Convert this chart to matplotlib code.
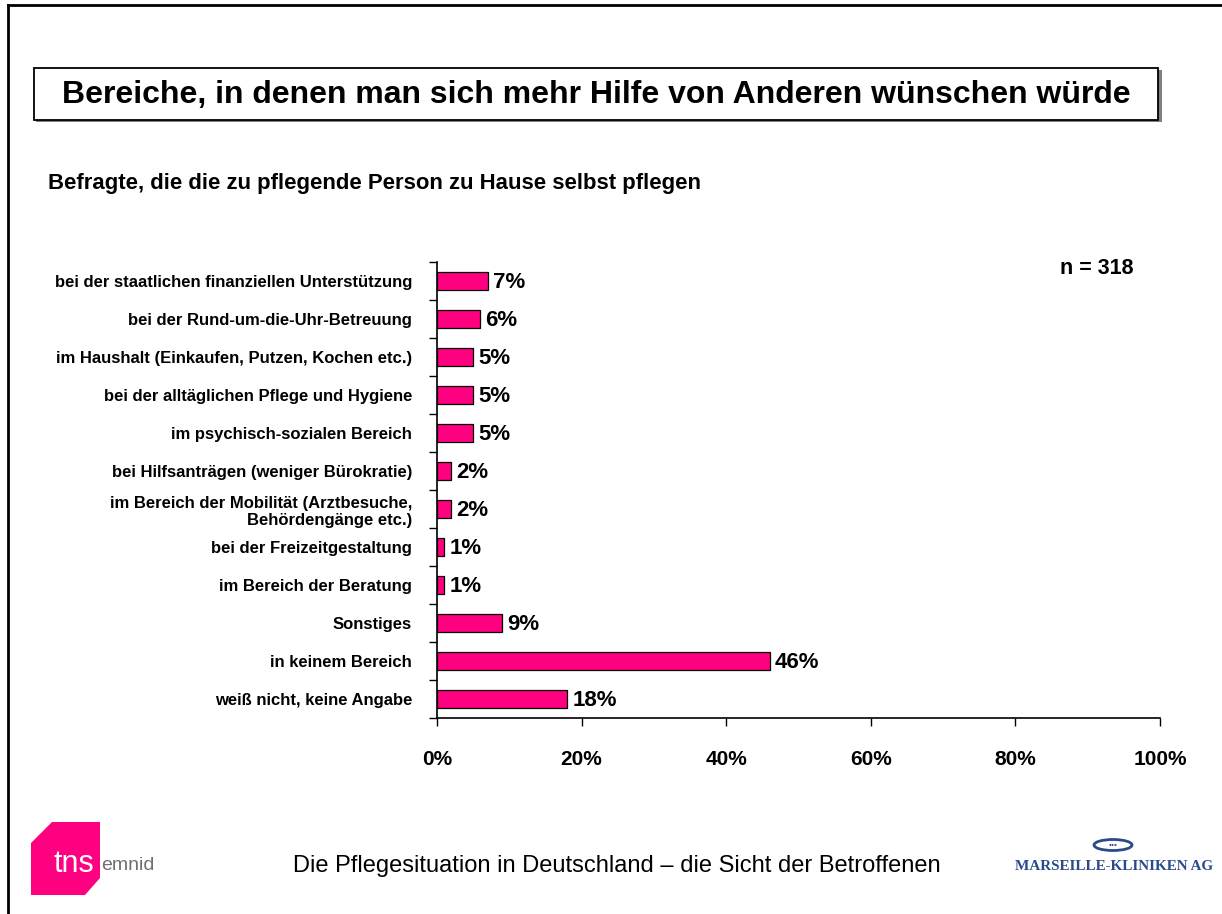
import matplotlib.pyplot as plt
from matplotlib.patches import Rectangle, Polygon, Ellipse
from matplotlib.lines import Line2D

plt.rcParams['font.family'] = ['Liberation Sans', 'DejaVu Sans']

categories = [
    'bei der staatlichen finanziellen Unterstützung',
    'bei der Rund-um-die-Uhr-Betreuung',
    'im Haushalt (Einkaufen, Putzen, Kochen etc.)',
    'bei der alltäglichen Pflege und Hygiene',
    'im psychisch-sozialen Bereich',
    'bei Hilfsanträgen (weniger Bürokratie)',
    'im Bereich der Mobilität (Arztbesuche,\nBehördengänge etc.)',
    'bei der Freizeitgestaltung',
    'im Bereich der Beratung',
    'Sonstiges',
    'in keinem Bereich',
    'weiß nicht, keine Angabe',
]
values = [7, 6, 5, 5, 5, 2, 2, 1, 1, 9, 46, 18]
x_ticks = [0, 20, 40, 60, 80, 100]

W, H = 1222, 914
PINK = '#FF0080'


def fx(x):
    return x / W


def fy(y):
    return 1 - y / H


fig = plt.figure(figsize=(W / 100, H / 100), dpi=100)

# page border (left and top)
fig.add_artist(Line2D([fx(8), fx(8)], [fy(5), fy(914)], color='black', lw=2))
fig.add_artist(Line2D([fx(8), fx(1222)], [fy(5), fy(5)], color='black', lw=2))

# title box with slight shadow
fig.add_artist(Rectangle((fx(36), fy(122)), fx(1126), 52 / H, facecolor='#808080',
                         edgecolor='none', transform=fig.transFigure))
fig.add_artist(Rectangle((fx(34), fy(120)), fx(1124), 52 / H, facecolor='white',
                         edgecolor='black', lw=1.3, transform=fig.transFigure))
fig.text(fx(596), fy(95), 'Bereiche, in denen man sich mehr Hilfe von Anderen wünschen würde',
         ha='center', va='center', fontsize=23, fontweight='bold')
fig.text(fx(48), fy(183), 'Befragte, die die zu pflegende Person zu Hause selbst pflegen',
         ha='left', va='center', fontsize=15.9, fontweight='bold')
fig.text(fx(1133), fy(268), 'n = 318', ha='right', va='center', fontsize=15.5, fontweight='bold')

# main chart
ax = fig.add_axes([fx(437), fy(718), (1160 - 437) / W, (718 - 262) / H])
y = list(range(len(categories)))
ax.barh(y, values, height=0.47, color=PINK, edgecolor='black', lw=0.9)
for yi, v in zip(y, values):
    ax.text(v + 0.7, yi + 0.03, f'{v}%', va='center', ha='left', fontsize=16, fontweight='bold')

ax.set_xlim(0, 100)
ax.set_ylim(len(categories) - 0.5, -0.5)
ax.set_xticks(x_ticks)
ax.set_xticklabels([f'{t}%' for t in x_ticks], fontsize=15, fontweight='bold')
ax.tick_params(axis='x', direction='out', length=6, width=1, pad=17)

ax.set_yticks([i - 0.5 for i in range(len(categories) + 1)])
ax.set_yticklabels([])
ax.tick_params(axis='y', which='major', direction='out', length=6, width=1)
ax.set_yticks(y, minor=True)
ax.set_yticklabels(categories, minor=True, fontsize=12, fontweight='bold')
ax.tick_params(axis='y', which='minor', length=0, pad=18)

for s in ['top', 'right']:
    ax.spines[s].set_visible(False)
for s in ['left', 'bottom']:
    ax.spines[s].set_linewidth(1.2)

# footer
fig.text(fx(617), fy(866), 'Die Pflegesituation in Deutschland – die Sicht der Betroffenen',
         ha='center', va='center', fontsize=17)

# tns emnid logo
pts = [(31, 843), (52, 822), (100, 822), (100, 878), (85, 895), (31, 895)]
fig.add_artist(Polygon([(fx(a), fy(b)) for a, b in pts], closed=True, facecolor=PINK,
                       edgecolor='none', transform=fig.transFigure))
fig.text(fx(74), fy(864), 'tns', ha='center', va='center', fontsize=22, color='white')
fig.text(fx(101), fy(866), 'emnid', ha='left', va='center', fontsize=14, color='#707070')

# Marseille-Kliniken logo
fig.add_artist(Ellipse((fx(1113), fy(845)), 38 / W, 11 / H, facecolor='white',
                       edgecolor='#2A4A8A', lw=2, transform=fig.transFigure))
fig.text(fx(1113), fy(845), '•••', ha='center', va='center', fontsize=6, color='#2A4A8A')
fig.text(fx(1114), fy(866), 'MARSEILLE-KLINIKEN AG', ha='center', va='center', fontsize=10.9,
         fontweight='bold', color='#2A4A8A', family=['Liberation Serif', 'DejaVu Serif'])

fig.savefig('out.png', dpi=100)
